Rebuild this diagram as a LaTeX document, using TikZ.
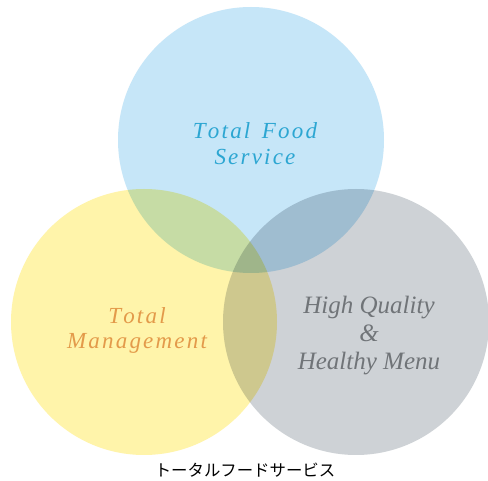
\documentclass[tikz,border=0pt]{standalone}
\usepackage{fontspec}
\setmainfont{Liberation Serif}
\newfontfamily\plainit{Liberation Serif Italic}
\newfontfamily\cjk{Noto Sans CJK JP}
\makeatletter
% letter spaced word
\newcommand\spread[1]{\@tfor\@ch:=#1\do{\@ch\kern2.2pt}\unkern}
\makeatother
\definecolor{foodfill}{RGB}{198,230,248}
\definecolor{mgmtfill}{RGB}{255,244,170}
\definecolor{menufill}{RGB}{206,210,214}
\definecolor{foodtext}{RGB}{44,166,210}
\definecolor{mgmttext}{RGB}{227,154,74}
\definecolor{menutext}{RGB}{112,116,120}
\tikzset{
  venn/.style={circle,minimum size=266pt,inner sep=0pt},
  venntext/.style={align=center,inner sep=0pt},
  caption/.style={inner sep=0pt,font=\cjk\fontsize{16.4}{18}\selectfont}
}

\begin{document}
\begin{tikzpicture}[x=1pt,y=-1pt]
    \useasboundingbox[fill=white] (0,0) rectangle (488,481);

    \begin{scope}[blend group=multiply]
      \node[venn,fill=foodfill] (food) at (251,140) {};
      \node[venn,fill=mgmtfill] (mgmt) at (144,322) {};
      \node[venn,fill=menufill] (menu) at (356,322) {};
    \end{scope}

    \node[venntext,text=foodtext,font=\plainit\fontsize{23}{26}\selectfont]
      (foodlabel) at (255,144) {\spread{Total}\ \ \spread{Food}\\\spread{Service}};
    \node[venntext,text=mgmttext,font=\plainit\fontsize{23}{25}\selectfont]
      (mgmtlabel) at (137,330) {\spread{Total}\\\spread{Management}};
    \node[venntext,text=menutext,font=\plainit\fontsize{25}{28}\selectfont]
      (menulabel) at (369,336) {High Quality\\\&\\Healthy Menu};

    \node[caption] (caption) at (245,470) {トータルフードサービス};
  \end{tikzpicture}
\end{document}
